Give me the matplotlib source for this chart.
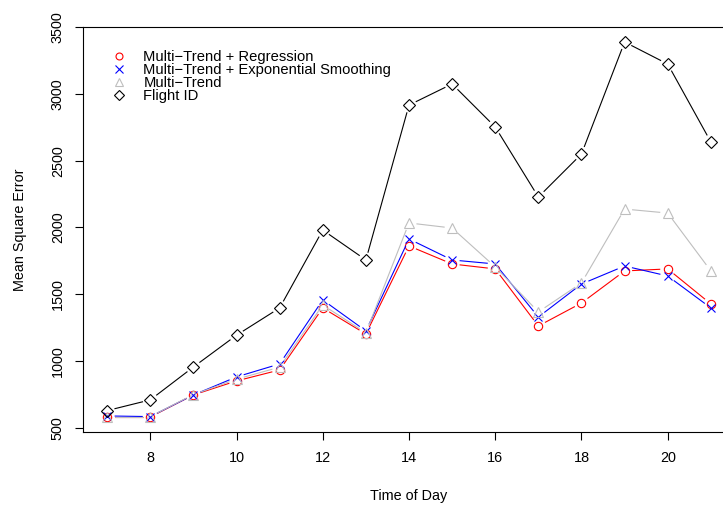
import matplotlib
matplotlib.use("Agg")
import matplotlib.pyplot as plt
from matplotlib.lines import Line2D
import numpy as np

plt.rcParams['font.family'] = ['Liberation Sans', 'DejaVu Sans']

hours = [7, 8, 9, 10, 11, 12, 13, 14, 15, 16, 17, 18, 19, 20, 21]
regression = [582, 582, 747, 852, 934, 1398, 1203, 1862, 1727, 1690, 1263, 1435, 1675, 1690, 1428]
exp_smoothing = [590, 585, 747, 882, 979, 1458, 1226, 1914, 1757, 1727, 1330, 1577, 1712, 1637, 1398]
multi_trend = [585, 585, 750, 865, 955, 1420, 1212, 2034, 1996, 1705, 1368, 1585, 2138, 2108, 1675]
flight_id = [630, 710, 956, 1194, 1398, 1981, 1757, 2916, 3074, 2752, 2228, 2550, 3388, 3223, 2640]

labels = ["Multi\u2212Trend + Regression",
          "Multi\u2212Trend + Exponential Smoothing",
          "Multi\u2212Trend",
          "Flight ID"]
colors = ["#FF0000", "#0000FF", "#BEBEBE", "#000000"]
markers = ["o", "x", "^", "D"]
msizes = [6, 6, 7, 6]
series = [regression, exp_smoothing, multi_trend, flight_id]

W, H = 723, 509
fig = plt.figure(figsize=(W / 100, H / 100), dpi=100)
left, right, top, bottom = 83, 735, 27, 432
ax = fig.add_axes([left / W, 1 - bottom / H, (right - left) / W, (bottom - top) / H])

allv = np.concatenate([np.array(s, float) for s in series])
x0, x1 = min(hours), max(hours)
xr = x1 - x0
ax.set_xlim(x0 - 0.04 * xr, x1 + 0.04 * xr)
y0, y1 = allv.min(), allv.max()
yr = y1 - y0
ax.set_ylim(y0 - 0.04 * yr, y1 + 0.04 * yr)

gap = 7.5  # pixels


def draw_b(x, y, color, marker, ms):
    pts = ax.transData.transform(np.column_stack([x, y]))
    inv = ax.transData.inverted()
    for i in range(len(pts) - 1):
        p, q = pts[i], pts[i + 1]
        d = q - p
        L = np.hypot(*d)
        if L <= 2 * gap:
            continue
        u = d / L
        a = inv.transform(p + u * gap)
        b = inv.transform(q - u * gap)
        ax.plot([a[0], b[0]], [a[1], b[1]], color=color, lw=0.8, solid_capstyle='butt')
    if marker == 'x':
        ax.plot(x, y, ls='none', marker=marker, ms=ms, mec=color, mew=0.8)
    else:
        ax.plot(x, y, ls='none', marker=marker, ms=ms, mfc='none', mec=color, mew=0.8)


for s, c, m, ms in zip(series, colors, markers, msizes):
    draw_b(hours, s, c, m, ms)

ax.set_xticks([8, 10, 12, 14, 16, 18, 20])
ax.set_yticks([500, 1000, 1500, 2000, 2500, 3000, 3500])
ax.tick_params(axis='both', direction='out', length=6, width=0.8, labelsize=10.4, pad=8)
ax.tick_params(axis='y', pad=7)
for lab in ax.get_yticklabels():
    lab.set_rotation(90)
    lab.set_va('center')
for sp in ax.spines.values():
    sp.set_linewidth(0.8)

ax.set_xlabel("Time of Day", fontsize=10.4, labelpad=17)
ax.set_ylabel("Mean Square Error", fontsize=10.4, labelpad=17)

handles = []
lsz = [5, 5.5, 6, 5]
for c, m, ms in zip(colors, markers, lsz):
    if m == 'x':
        handles.append(Line2D([], [], ls='none', marker=m, ms=ms, mec=c, mew=0.8))
    else:
        handles.append(Line2D([], [], ls='none', marker=m, ms=ms, mfc='none', mec=c, mew=0.8))
ax.legend(handles, labels, loc='upper left', bbox_to_anchor=(0.035, 0.957), frameon=False,
          fontsize=10.6, handlelength=1.0, handletextpad=1.15, labelspacing=-0.08,
          borderaxespad=0)

fig.savefig("out.png", dpi=100)
